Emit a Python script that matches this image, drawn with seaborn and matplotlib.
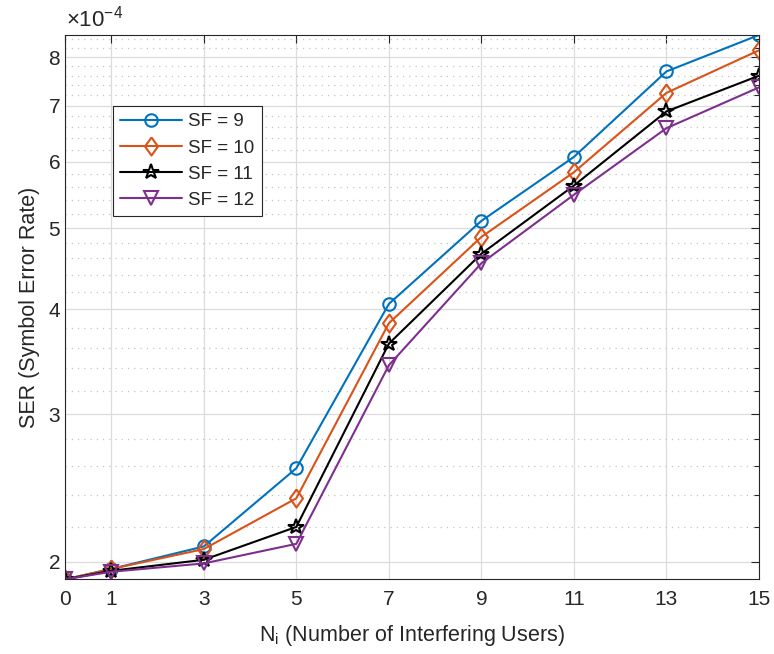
import numpy as np
import pandas as pd
import matplotlib
matplotlib.use("Agg")
import matplotlib.pyplot as plt
import seaborn as sns
from matplotlib.ticker import FixedLocator, MultipleLocator, FuncFormatter, NullFormatter

# Data, SER in units of 1e-4
n_users = [0, 1, 3, 5, 7, 9, 11, 13, 15]
ser_sf9 = [1.905, 1.96, 2.085, 2.585, 4.06, 5.10, 6.08, 7.69, 8.50]
ser_sf10 = [1.905, 1.96, 2.07, 2.38, 3.85, 4.88, 5.83, 7.25, 8.15]
ser_sf11 = [1.905, 1.95, 2.01, 2.20, 3.64, 4.66, 5.62, 6.89, 7.60]
ser_sf12 = [1.905, 1.945, 1.99, 2.10, 3.43, 4.54, 5.48, 6.58, 7.36]
labels = ["SF = 9", "SF = 10", "SF = 11", "SF = 12"]
y_ticks = [2, 3, 4, 5, 6, 7, 8]
scale = 1e-4

series = [ser_sf9, ser_sf10, ser_sf11, ser_sf12]
colors = ["#0072BD", "#D95319", "#000000", "#7E2F8E"]
# MATLAB-like diamond (a bit wider than matplotlib's thin diamond)
diamond = [(0, 1), (0.72, 0), (0, -1), (-0.72, 0), (0, 1)]
markers = ["o", diamond, "*", "v"]
msizes = [9, 13, 11.5, 9.5]

sns.set_style("white")
plt.rcParams["font.family"] = ["Liberation Sans", "DejaVu Sans"]
plt.rcParams["mathtext.fontset"] = "custom"
plt.rcParams["mathtext.rm"] = "Liberation Sans"
plt.rcParams["mathtext.it"] = "Liberation Sans:italic"

fig = plt.figure(figsize=(7.74, 6.54), dpi=100)
ax = fig.add_axes([0.084, 0.1142, 0.8966, 0.8323])

for vals, lab, col, mk, ms in zip(series, labels, colors, markers, msizes):
    df = pd.DataFrame({"N": n_users, "SER": np.array(vals) * scale})
    sns.lineplot(data=df, x="N", y="SER", ax=ax, label=lab, color=col,
                 marker=mk, markersize=ms, markerfacecolor="none",
                 markeredgecolor=col, markeredgewidth=1.5, linewidth=1.5)

ax.set_yscale("log")
all_vals = np.concatenate(series) * scale
ax.set_ylim(all_vals.min(), all_vals.max())
ax.set_xlim(min(n_users), max(n_users))

ax.xaxis.set_major_locator(FixedLocator(n_users))
ax.yaxis.set_major_locator(FixedLocator(np.array(y_ticks) * scale))
ax.yaxis.set_major_formatter(FuncFormatter(lambda v, _: f"{v / scale:g}"))
ax.yaxis.set_minor_locator(MultipleLocator(0.2 * scale))
ax.yaxis.set_minor_formatter(NullFormatter())

ax.grid(which="major", color="#dcdcdc", linewidth=0.9, linestyle="-")
ax.grid(which="minor", axis="y", color="#c4c4c4", linewidth=0.9, linestyle=(0, (1, 4)))
ax.set_axisbelow(True)

for sp in ax.spines.values():
    sp.set_color("#262626")
    sp.set_linewidth(0.8)
    sp.set_visible(True)

ax.tick_params(which="both", direction="in", top=True, right=True,
               colors="#262626", labelsize=15, width=0.8)
ax.tick_params(which="major", length=6)
ax.tick_params(which="minor", length=3.5)
ax.tick_params(axis="x", pad=8)

ax.set_xlabel(r"N$_\mathregular{i}$ (Number of Interfering Users)", fontsize=15.5,
              color="#262626", labelpad=10)
ax.set_ylabel("SER (Symbol Error Rate)", fontsize=15.5, color="#262626", labelpad=6)
ax.text(0.002, 1.006, r"$\mathregular{\times 10^{-4}}$", transform=ax.transAxes,
        fontsize=16, color="#262626", ha="left", va="bottom")

leg = ax.legend(loc="upper left", bbox_to_anchor=(0.069, 0.87), borderaxespad=0,
                fontsize=13.5, handlelength=3.3, handletextpad=0.3, labelspacing=0.48,
                borderpad=0.4, fancybox=False, framealpha=1, edgecolor="#262626")
leg.get_frame().set_linewidth(0.8)

fig.savefig("out.png", dpi=100)
